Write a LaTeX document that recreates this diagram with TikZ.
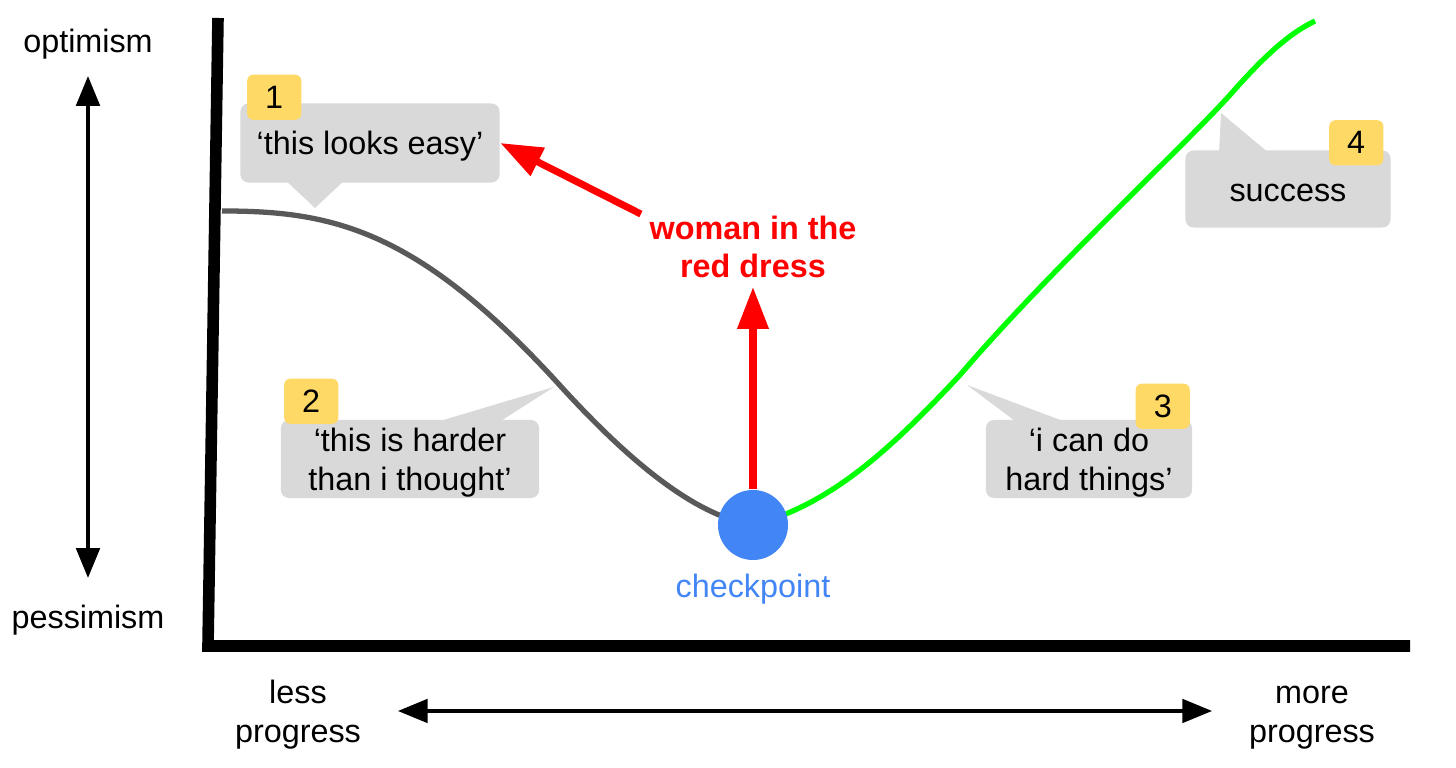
\documentclass[tikz,border=0pt]{standalone}
\usepackage{fontspec}
\setmainfont{Liberation Sans}
\usetikzlibrary{arrows.meta,positioning}
\definecolor{bubblegray}{HTML}{D9D9D9}
\definecolor{badgeyellow}{HTML}{FFD966}
\definecolor{cpblue}{HTML}{4285F4}
\definecolor{curvegray}{HTML}{595959}
\definecolor{upgreen}{HTML}{00FF00}
\tikzset{node distance=2cm, auto,
  txt/.style={inner sep=0pt, align=center, font=\fontsize{9.2}{11}\selectfont},
  bubble/.style={txt, fill=bubblegray, rounded corners=2.3pt, text depth=0pt},
  badge/.style={txt, fill=badgeyellow, rounded corners=1.7pt, minimum width=0.54cm, minimum height=0.45cm},
  tail/.style={fill=bubblegray},
  ends/.style={txt, text height=0.62cm, text depth=0pt},
  span/.style={{Triangle[length=0.3cm,width=0.23cm]}-{Triangle[length=0.3cm,width=0.23cm]}, line width=1.4pt},
  push/.style={-{Triangle[length=0.42cm,width=0.3cm]}, red, line width=2pt},
  mood/.style={line width=1.5pt}}

\begin{document}
\begin{tikzpicture}[x=0.01cm, y=-0.01cm]
  \useasboundingbox (0,0) rectangle (1456,768);
  \draw[line width=3.3pt] (218,18) -- (208,646) -- (1410,646);

  \node[txt] (opt) at (88,44) {optimism};
  \node[txt] (pes) at (88,620) {pessimism};
  \node[ends] (less) at (298,711) {less\\progress};
  \node[ends] (more) at (1312,711) {more\\progress};
  \draw[span, shorten <=0.16cm, shorten >=0.26cm] (opt) -- (pes);
  \draw[span, shorten <=0.36cm, shorten >=0.36cm] (less) -- (more);

  \node[bubble, minimum width=2.59cm, minimum height=0.79cm] (c1) at (370,143) {‘this looks easy’};
  \node[bubble, minimum width=2.58cm, minimum height=0.78cm] (c2) at (410,459) {‘this is harder\\than i thought’};
  \node[bubble, minimum width=2.06cm, minimum height=0.78cm] (c3) at (1089,459) {‘i can do\\hard things’};
  \node[bubble, minimum width=2.05cm, minimum height=0.77cm, text height=0.25cm] (c4) at (1288,189) {success};
  \coordinate (t1) at (315,208);
  \coordinate (t2) at (554,387);
  \coordinate (t3) at (967,385);
  \coordinate (t4) at (1221,113);
  \fill[tail] (283,178) -- (t1) -- (347,178) -- cycle;
  \fill[tail] (430,424) -- (t2) -- (496,424) -- cycle;
  \fill[tail] (1019,424) -- (t3) -- (1071,424) -- cycle;
  \fill[tail] (1219,154) -- (t4) -- (1270,154) -- cycle;
  \node[badge] (n1) at ([xshift=0.345cm, yshift=0.055cm]c1.north west) {1};
  \node[badge] (n2) at ([xshift=0.31cm, yshift=0.18cm]c2.north west) {2};
  \node[badge] (n3) at ([xshift=-0.3cm, yshift=0.13cm]c3.north east) {3};
  \node[badge] (n4) at ([xshift=-0.35cm, yshift=0.07cm]c4.north east) {4};

  \coordinate (low) at (753,525);
  \draw[mood, curvegray] (222,211) .. controls (330,211) and (415,228) .. (555,380)
    .. controls (620,452) and (690,515) .. (low);
  \draw[mood, upgreen] (low) .. controls (830,505) and (890,450) .. (960,375)
    .. controls (1050,270) and (1180,150) .. (1230,95)
    .. controls (1265,55) and (1290,33) .. (1315,21);
  \node[circle, fill=cpblue, minimum size=0.7cm, inner sep=0pt] (cp) at (low) {};
  \node[txt, text=cpblue, below=0.13cm of cp] (cpl) {checkpoint};

  \node[txt, font=\fontsize{9.2}{11}\selectfont\bfseries, text=red, inner sep=0.08cm] (wrd) at (753,247) {woman in the\\red dress};
  \draw[push] (cp) -- (wrd);
  \draw[push] ([yshift=-0.07cm]wrd.north west) -- (c1.east);
\end{tikzpicture}
\end{document}
